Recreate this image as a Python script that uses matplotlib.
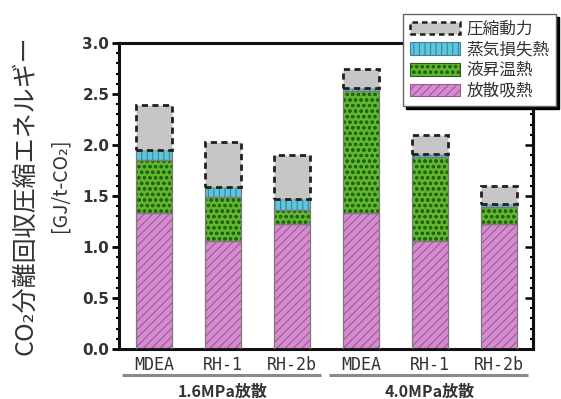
import matplotlib
matplotlib.use("Agg")
import matplotlib.pyplot as plt
from matplotlib.patches import Patch
from matplotlib.ticker import MultipleLocator
import matplotlib.transforms as mtransforms
import numpy as np

plt.rcParams['font.family'] = ['Noto Sans CJK JP', 'DejaVu Sans']
plt.rcParams['hatch.linewidth'] = 0.8

# ---- data -------------------------------------------------------------
categories = ['MDEA', 'RH-1', 'RH-2b', 'MDEA', 'RH-1', 'RH-2b']
groups = ['1.6MPa放散', '4.0MPa放散']
group_size = 3

desorption_heat = [1.33, 1.06, 1.23, 1.33, 1.06, 1.23]   # 放散吸熱
liquid_heating = [0.52, 0.43, 0.13, 1.20, 0.82, 0.16]    # 液昇温熱
steam_loss = [0.10, 0.10, 0.11, 0.03, 0.03, 0.03]        # 蒸気損失熱
compression = [0.44, 0.44, 0.43, 0.19, 0.19, 0.18]       # 圧縮動力

series_labels = ['放散吸熱', '液昇温熱', '蒸気損失熱', '圧縮動力']
yticks = [0.0, 0.5, 1.0, 1.5, 2.0, 2.5, 3.0]

# ---- styles -----------------------------------------------------------
styles = [
    dict(face='#d68bcf', hatch_col='#9a5a98', hatch='////'),
    dict(face='#5cb82c', hatch_col='#2a5e16', hatch='ooo'),
    dict(face='#5ec6dc', hatch_col='#3a8298', hatch='|||'),
    dict(face='#c6c6c6', hatch_col=None, hatch=None),
]

fig = plt.figure(figsize=(5.61, 3.99), dpi=100)
ax = fig.add_axes([0.2121, 0.1253, 0.7379, 0.7667])

x = np.arange(len(categories))
width = 0.53
series = [desorption_heat, liquid_heating, steam_loss, compression]
bottom = np.zeros(len(categories))
for vals, st in zip(series, styles):
    vals = np.asarray(vals)
    if st['hatch']:
        ax.bar(x, vals, width, bottom=bottom, color=st['face'],
               edgecolor=st['hatch_col'], hatch=st['hatch'], linewidth=0,
               zorder=2)
        ax.bar(x, vals, width, bottom=bottom, fill=False,
               edgecolor='#7a7a7a', linewidth=0.9, zorder=3)
    else:
        ax.bar(x, vals, width, bottom=bottom, color=st['face'],
               edgecolor='#202020', linewidth=2.0, linestyle=(0, (2.2, 1.6)),
               zorder=3)
    bottom += vals

ax.set_xlim(-0.51, 5.49)
ax.set_ylim(0, 3.0)
ax.set_yticks(yticks)
ax.set_yticklabels([f'{v:.1f}' for v in yticks])
ax.yaxis.set_minor_locator(MultipleLocator(0.1))
ax.tick_params(axis='y', which='major', direction='out', length=5, width=2,
               labelsize=11, labelcolor='#333333', pad=2)
ax.tick_params(axis='y', which='minor', direction='out', length=2.5, width=1.5)
for lab in ax.get_yticklabels():
    lab.set_fontweight('bold')
    lab.set_family('DejaVu Sans')

ax.set_xticks(x)
ax.set_xticklabels(categories, family='DejaVu Sans Mono', fontsize=12,
                   color='#333333')
ax.tick_params(axis='x', length=0, pad=5)

for sp in ax.spines.values():
    sp.set_linewidth(2.2)
    sp.set_color('#111111')

right = ax.secondary_yaxis('right')
right.set_yticks(yticks)
right.yaxis.set_minor_locator(MultipleLocator(0.1))
right.tick_params(which='major', direction='in', length=6, width=1.8,
                  labelright=False)
right.tick_params(which='minor', direction='in', length=2.5, width=1.5)
right.spines['right'].set_linewidth(2.2)

# ---- group brackets ---------------------------------------------------
trans = mtransforms.blended_transform_factory(ax.transData, ax.transAxes)
for gi, gname in enumerate(groups):
    first = gi * group_size
    last = first + group_size - 1
    ax.plot([x[first] - 0.47, x[last] + 0.42], [-0.085, -0.085],
            transform=trans, color='#8a8a8a', linewidth=2.2, clip_on=False,
            solid_capstyle='butt')
    ax.text((x[first] + x[last]) / 2, -0.14, gname, transform=trans,
            ha='center', va='center', fontsize=11.5, color='#333333',
            fontweight='bold')

# ---- y label ------------------------------------------------------------
fig.text(0.045, 0.51, 'CO₂分離回収圧縮エネルギー', rotation=90,
         ha='center', va='center', fontsize=18, color='#333333')
fig.text(0.107, 0.535, '[GJ/t-CO₂]', rotation=90,
         ha='center', va='center', fontsize=14, color='#333333')

# ---- legend -----------------------------------------------------------
handles = []
for st in styles:
    if st['hatch']:
        handles.append(Patch(facecolor=st['face'], edgecolor=st['hatch_col'],
                             hatch=st['hatch'], linewidth=0.8))
    else:
        handles.append(Patch(facecolor=st['face'], edgecolor='#202020',
                             linewidth=1.8, linestyle=(0, (2.2, 1.6))))
leg = fig.legend(handles[::-1], series_labels[::-1], loc='upper left',
                 bbox_to_anchor=(403 / 561, 1 - 14 / 399),
                 fontsize=12, frameon=True, fancybox=False,
                 shadow={'color': 'black', 'alpha': 1.0},
                 handlelength=3.0, handleheight=0.8, labelspacing=0.22,
                 handletextpad=0.4, borderpad=0.4, borderaxespad=0)
leg.get_frame().set_edgecolor('#666666')
leg.get_frame().set_linewidth(1.0)
leg.get_frame().set_alpha(1.0)
for t in leg.get_texts():
    t.set_color('#333333')

fig.savefig('out.png', dpi=100)
